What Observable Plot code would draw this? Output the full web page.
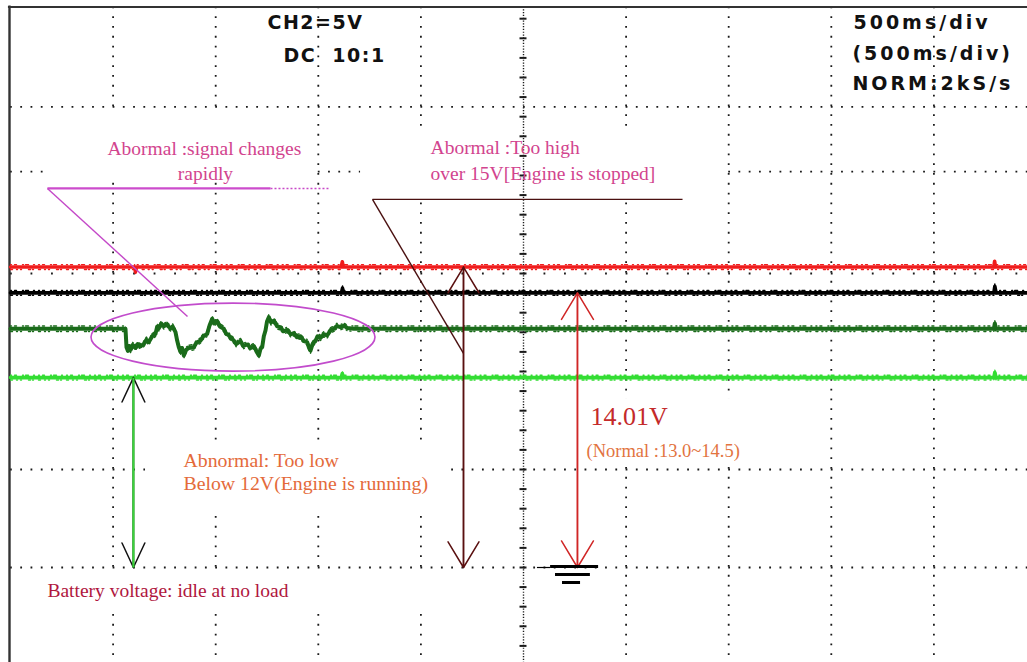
<!DOCTYPE html>
<html>
<head>
<meta charset="utf-8">
<script src="https://cdn.jsdelivr.net/npm/d3@7"></script>
<script src="https://cdn.jsdelivr.net/npm/@observablehq/plot@0.6"></script>
<style>
  html, body { margin: 0; padding: 0; background: #fff; overflow: hidden; }
  #scope { width: 1027px; height: 662px; }
  #scope text[aria-label="readout-left"] { letter-spacing: 1.5px; }
  #scope text[aria-label="readout-right"] { letter-spacing: 3px; }
</style>
</head>
<body>
<div id="scope"></div>
<script>
// ---------------------------------------------------------------------------
// Oscilloscope capture: CH2 = 5 V/div, 500 ms/div, ground reference at 0 V.
// x is time in seconds (10 divisions), y is voltage.
// ---------------------------------------------------------------------------
const timeDomain = [0, 5];
const voltDomain = [0, 15];

// Graticule
const gridTimes = [0.5, 1, 1.5, 2, 3, 3.5, 4, 4.5];
const centerTime = 2.5;
const denseRows = [0, 5, 20.2, 23.5];
const sparseRows = [15];
const axisTicks = d3.range(-4, 29);
const screenTop = 28.6;
const screenBottom = -5;

// Trace levels (V)
const redLevel = 15.33;
const blackLevel = 14.01;
const darkGreenLevel = 12.18;
const lightGreenLevel = 9.69;

// Traces: [time s, volts]
const redTrace = [
  [0, 15.33], [0.605, 15.33], [0.609, 15.08], [0.613, 15.33],
  [1.612, 15.33], [1.617, 15.6], [1.622, 15.33],
  [4.792, 15.33], [4.796, 15.62], [4.800, 15.33], [5, 15.33]
];
const blackTrace = [
  [0, 14.01], [1.613, 14.01], [1.618, 14.25], [1.623, 14.01],
  [4.792, 14.01], [4.797, 14.35], [4.803, 14.01], [5, 14.01]
];
const darkGreenTrace = [
  [0, 12.18], [0.5604, 12.18], [0.5653, 11.24], [0.572, 11.05], [0.578, 11.30],
  [0.585, 11.10], [0.595, 11.35], [0.609, 11.20], [0.620, 11.40],
  [0.6335, 11.28], [0.650, 11.41], [0.662, 11.62], [0.674, 11.50], [0.6907, 11.80],
  [0.7066, 11.92], [0.715, 12.30], [0.7228, 12.20], [0.735, 12.45], [0.7472, 12.30],
  [0.760, 12.40], [0.7797, 12.20], [0.790, 12.30], [0.8041, 12.01], [0.8122, 11.58],
  [0.8200, 11.25], [0.8285, 11.00], [0.836, 11.20], [0.8447, 10.82], [0.856, 11.10],
  [0.869, 11.20], [0.8934, 11.24], [0.905, 11.45], [0.9259, 11.58], [0.940, 11.80],
  [0.9584, 11.92], [0.970, 12.35], [0.983, 12.69], [0.992, 12.45], [1.0071, 12.58],
  [1.020, 12.30], [1.0396, 12.18], [1.050, 11.95], [1.064, 11.84], [1.075, 11.70],
  [1.0884, 11.58], [1.100, 11.40], [1.1209, 11.55], [1.135, 11.30], [1.1534, 11.38],
  [1.170, 11.20], [1.1858, 11.30], [1.198, 11.05], [1.2102, 10.82], [1.218, 11.15],
  [1.2265, 11.24], [1.2345, 11.80], [1.2427, 12.09], [1.250, 12.55], [1.2589, 12.77],
  [1.270, 12.50], [1.2833, 12.60], [1.300, 12.30], [1.3158, 12.26], [1.330, 12.05],
  [1.3483, 12.12], [1.365, 11.90], [1.3808, 11.96], [1.395, 11.75], [1.4133, 11.80],
  [1.430, 11.55], [1.4457, 11.50], [1.455, 11.20], [1.462, 11.07], [1.472, 11.40],
  [1.4864, 11.58], [1.497, 11.80], [1.5107, 11.72], [1.527, 11.90], [1.5432, 11.84],
  [1.560, 12.10], [1.5757, 12.18], [1.590, 12.32], [1.6082, 12.26], [1.625, 12.34],
  [1.6407, 12.22], [1.6731, 12.18],
  [4.792, 12.18], [4.797, 12.45], [4.802, 12.18], [5, 12.18]
];
const lightGreenTrace = [
  [0, 9.69], [1.612, 9.69], [1.617, 9.9], [1.622, 9.69],
  [4.792, 9.69], [4.797, 9.95], [4.803, 9.69], [5, 9.69]
];

// Measurement arrows (from ground to a trace level)
const greenArrow = {t: 0.599, from: 0, to: lightGreenLevel};
const brownArrow = {t: 2.2076, from: 0, to: redLevel};
const redArrow = {t: 2.763, from: 0, to: blackLevel};

// Callout leader lines
const magentaBar = [{t1: 0.18, v1: 19.34, t2: 1.267, v2: 19.34}];
const magentaDiagonal = [{t1: 0.18, v1: 19.34, t2: 0.8626, v2: 12.81}];
const magentaDotted = [{t1: 1.267, v1: 19.34, t2: 1.559, v2: 19.34}];
const brownLeaders = [
  {t1: 1.764, v1: 18.78, t2: 3.275, v2: 18.78},
  {t1: 1.764, v1: 18.78, t2: 2.2076, v2: 10.92}
];
// Loop around the unstable section of the dark green trace
const loop = {t: 1.0867, v: 11.73, halfWidth: 0.692, halfHeight: 1.735};

// Ground reference symbol: bars stacked under the 0 V marker (pixel drop per bar)
const groundBars = [
  {t1: 2.632, t2: 2.866, v: 0, drop: -1},
  {t1: 2.656, t2: 2.826, v: 0, drop: 7},
  {t1: 2.690, t2: 2.778, v: 0, drop: 15}
];
const groundLead = [{t1: 2.568, t2: 2.632, v: 0}];

// Areas kept clear behind the annotation texts
const clearAreas = [
  {t1: 0.17, t2: 1.496, v1: 23.27, v2: 19.64},
  {t1: 1.706, t2: 3.47, v1: 22.5, v2: 18.72},
  {t1: 0.658, t2: 2.144, v1: 6.48, v2: 2.81},
  {t1: 2.802, t2: 3.655, v1: 8.62, v2: 5.15},
  {t1: 0.049, t2: 2.217, v1: -0.26, v2: -2.3}
];

// Readout text
const readoutLeft = [
  {t: 1.2525, v: 27.76, label: "CH2=5V"},
  {t: 1.330, v: 26.10, label: "DC  10:1"}
];
const readoutRight = [
  {t: 4.108, v: 27.76, label: "500ms/div"},
  {t: 4.103, v: 26.22, label: "(500ms/div)"},
  {t: 4.103, v: 24.69, label: "NORM:2kS/s"}
];

// Annotations
const pinkNotes = [
  {t: 0.4727, v: 21.38, label: "Abormal :signal changes", anchor: "start"},
  {t: 0.950, v: 20.10, label: "rapidly", anchor: "middle"},
  {t: 2.047, v: 21.43, label: "Abormal :Too high", anchor: "start"},
  {t: 2.047, v: 20.10, label: "over 15V[Engine is stopped]", anchor: "start"}
];
const orangeNotes = [
  {t: 0.843, v: 5.46, label: "Abnormal: Too low"},
  {t: 0.843, v: 4.29, label: "Below 12V(Engine is running)"}
];
const batteryNote = [{t: 0.180, v: -1.17, label: "Battery voltage: idle at no load"}];
const voltageNote = [{t: 2.826, v: 7.70, label: "14.01V"}];
const rangeNote = [{t: 2.807, v: 5.92, label: "(Normal :13.0~14.5)"}];

// ---------------------------------------------------------------------------
const both = (a) => [
  {t: a.t, from: a.from, to: a.to},
  {t: a.t, from: a.to, to: a.from}
];

function trace(data, color, width = 3.6, spread = 2.4) {
  const X = (d) => d[0], Y = (d) => d[1];
  return [
    Plot.line(data, {x: X, y: Y, stroke: color, strokeWidth: width}),
    Plot.line(data, {x: X, y: Y, stroke: color, strokeWidth: 1.4, dy: -spread,
      strokeDasharray: "1,3,2,6,1,2,3,5,1,4"}),
    Plot.line(data, {x: X, y: Y, stroke: color, strokeWidth: 1.4, dy: spread,
      strokeDasharray: "2,4,1,3,1,7,2,2,1,5"})
  ];
}

const serif = "Liberation Serif";

const chart = Plot.plot({
  width: 1027,
  height: 662,
  style: {background: "#ffffff"},
  x: {domain: timeDomain, range: [10, 1036], axis: null},
  y: {domain: voltDomain, range: [567, 273], axis: null},
  marks: [
    // graticule
    Plot.ruleX(gridTimes, {y1: screenTop, y2: screenBottom, stroke: "#1a1a1a",
      strokeWidth: 1.8, strokeDasharray: "1.8,8"}),
    Plot.ruleY(denseRows, {x1: 0, x2: 5, stroke: "#1a1a1a",
      strokeWidth: 1.8, strokeDasharray: "1.8,8.46"}),
    Plot.ruleY(sparseRows, {x1: 0, x2: 5, stroke: "#1a1a1a",
      strokeWidth: 1.8, strokeDasharray: "1.8,18.72"}),
    Plot.rect(clearAreas, {x1: "t1", x2: "t2", y1: "v1", y2: "v2", fill: "#ffffff"}),
    // centre axis with 1 V minor ticks
    Plot.ruleX([centerTime], {y1: screenTop, y2: screenBottom, stroke: "#1a1a1a",
      strokeWidth: 1.4, strokeDasharray: "1.2,1.6"}),
    Plot.ruleY(axisTicks, {x1: centerTime - 0.017, x2: centerTime + 0.017,
      stroke: "#1a1a1a", strokeWidth: 2}),
    // screen border
    Plot.ruleX([0], {y1: screenBottom, y2: screenTop + 0.05, stroke: "#333",
      strokeWidth: 2.4, dx: -1}),
    Plot.ruleY([screenTop], {x1: -0.01, x2: 5, stroke: "#333", strokeWidth: 2}),
    // traces
    ...trace(lightGreenTrace, "#33dd33"),
    ...trace(darkGreenTrace, "#1a6b1a", 4, 2.7),
    ...trace(blackTrace, "#000000"),
    ...trace(redTrace, "#f01c1c"),
    // callout leaders
    Plot.link(magentaBar, {x1: "t1", y1: "v1", x2: "t2", y2: "v2",
      stroke: "#cc4ccc", strokeWidth: 2.2}),
    Plot.link(magentaDiagonal, {x1: "t1", y1: "v1", x2: "t2", y2: "v2",
      stroke: "#c448c8", strokeWidth: 1.4}),
    Plot.link(magentaDotted, {x1: "t1", y1: "v1", x2: "t2", y2: "v2",
      stroke: "#c848c8", strokeWidth: 1.4, strokeDasharray: "2,2"}),
    Plot.link(brownLeaders, {x1: "t1", y1: "v1", x2: "t2", y2: "v2",
      stroke: "#4a1010", strokeWidth: 1.4}),
    // arrows
    Plot.arrow(both(greenArrow), {x1: "t", x2: "t", y1: "from", y2: "to",
      stroke: "#111111", strokeWidth: 1.5, headLength: 27, headAngle: 50}),
    Plot.link([greenArrow], {x1: "t", x2: "t", y1: "from", y2: "to",
      stroke: "#3ad43a", strokeWidth: 2.2}),
    Plot.arrow(both(brownArrow), {x1: "t", x2: "t", y1: "from", y2: "to",
      stroke: "#5a1010", strokeWidth: 1.5, headLength: 30, headAngle: 62}),
    Plot.arrow(both(redArrow), {x1: "t", x2: "t", y1: "from", y2: "to",
      stroke: "#d02626", strokeWidth: 1.5, headLength: 31, headAngle: 62}),
    // ground symbol
    Plot.ruleY(groundLead, {x1: "t1", x2: "t2", y: "v", stroke: "#000", strokeWidth: 1.2}),
    Plot.ruleY(groundBars, {x1: "t1", x2: "t2", y: "v", stroke: "#000", strokeWidth: 3,
      ariaLabel: () => "ground"}),
    // readout
    Plot.text(readoutLeft, {x: "t", y: "v", text: "label", textAnchor: "start",
      fontFamily: "DejaVu Sans", fontWeight: "bold", fontSize: 19, fill: "#111",
      ariaLabel: () => "readout-left"}),
    Plot.text(readoutRight, {x: "t", y: "v", text: "label", textAnchor: "start",
      fontFamily: "DejaVu Sans", fontWeight: "bold", fontSize: 19, fill: "#111",
      ariaLabel: () => "readout-right"}),
    // annotations
    Plot.text(pinkNotes.filter((d) => d.anchor === "start"), {x: "t", y: "v", text: "label",
      textAnchor: "start", fontFamily: serif, fontSize: 19.5, fill: "#d2448e"}),
    Plot.text(pinkNotes.filter((d) => d.anchor === "middle"), {x: "t", y: "v", text: "label",
      textAnchor: "middle", fontFamily: serif, fontSize: 19.5, fill: "#d2448e"}),
    Plot.text(orangeNotes, {x: "t", y: "v", text: "label", textAnchor: "start",
      fontFamily: serif, fontSize: 19.8, fill: "#e46a3a"}),
    Plot.text(batteryNote, {x: "t", y: "v", text: "label", textAnchor: "start",
      fontFamily: serif, fontSize: 19.5, fill: "#b0173e"}),
    Plot.text(voltageNote, {x: "t", y: "v", text: "label", textAnchor: "start",
      fontFamily: serif, fontSize: 26, fill: "#c42a2a"}),
    Plot.text(rangeNote, {x: "t", y: "v", text: "label", textAnchor: "start",
      fontFamily: serif, fontSize: 18.5, fill: "#e2743f"})
  ]
});

document.getElementById("scope").appendChild(chart);

// Ground bars sit one under the other below the 0 V marker.
d3.select(chart).selectAll('line[aria-label="ground"]').each(function (d, i) {
  const el = d3.select(this);
  const off = groundBars[i].drop;
  el.attr("y1", +el.attr("y1") + off).attr("y2", +el.attr("y2") + off);
});

// Loop around the unstable section, drawn with the plot's own scales.
const sx = chart.scale("x"), sy = chart.scale("y");
const px = (t) => sx.apply(t), py = (v) => sy.apply(v);
d3.select(chart).append("ellipse")
  .attr("cx", px(loop.t)).attr("cy", py(loop.v))
  .attr("rx", px(loop.t + loop.halfWidth) - px(loop.t))
  .attr("ry", py(loop.v - loop.halfHeight) - py(loop.v))
  .attr("fill", "none").attr("stroke", "#c24ccc").attr("stroke-width", 1.6);
</script>
</body>
</html>
